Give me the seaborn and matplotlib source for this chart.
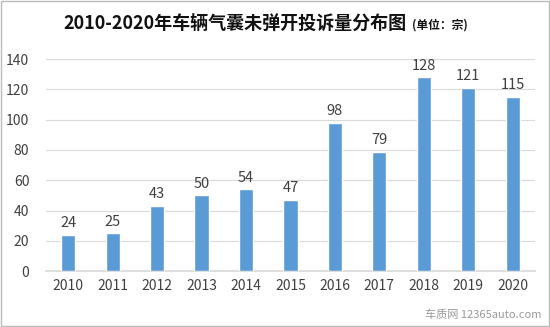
import matplotlib
matplotlib.use("Agg")
import matplotlib.pyplot as plt
import seaborn as sns
import pandas as pd

years = ["2010", "2011", "2012", "2013", "2014", "2015", "2016", "2017", "2018", "2019", "2020"]
counts = [24, 25, 43, 50, 54, 47, 98, 79, 128, 121, 115]

sns.set_theme(style="white")
plt.rcParams['font.family'] = ['Noto Sans CJK SC', 'DejaVu Sans']

df = pd.DataFrame({"year": years, "count": counts})

fig = plt.figure(figsize=(5.5, 3.27), dpi=100)
ax = fig.add_axes([0.0836, 0.171, 0.889, 0.648])
sns.barplot(data=df, x="year", y="count", color="#5B9BD5", width=0.32,
            saturation=1, ax=ax, zorder=3)
ax.set_ylim(0, 140)
ax.set_yticks(range(0, 141, 20))
ax.set_xlim(-0.5, 10.5)
ax.yaxis.grid(True, color="#D9D9D9", linewidth=0.8, zorder=0)
ax.set_xlabel("")
ax.set_ylabel("")
for s in ["top", "right", "left"]:
    ax.spines[s].set_visible(False)
ax.spines["bottom"].set_color("#D9D9D9")
ax.tick_params(axis="both", length=0, labelsize=10, colors="#404040")
ax.tick_params(axis="x", pad=6)
ax.tick_params(axis="y", pad=12)
for i, v in enumerate(counts):
    ax.text(i, v + 3, str(v), ha="center", va="bottom", fontsize=10.5, color="#404040")

fig.text(0.427, 0.93, "2010-2020年车辆气囊未弹开投诉量分布图", ha="center", va="center",
         fontsize=13, fontweight="bold", color="#111111")
fig.text(0.8, 0.922, "(单位：宗)", ha="center", va="center", fontsize=8.5,
         fontweight="bold", color="#111111")
fig.text(0.985, 0.02, "车质网 12365auto.com", ha="right", va="bottom", fontsize=8,
         color="#999999")

border = plt.Rectangle((0.002, 0.003), 0.996, 0.994, transform=fig.transFigure,
                       fill=False, edgecolor="#BBBBBB", linewidth=1)
fig.patches.append(border)
fig.savefig("out.png", dpi=100)
